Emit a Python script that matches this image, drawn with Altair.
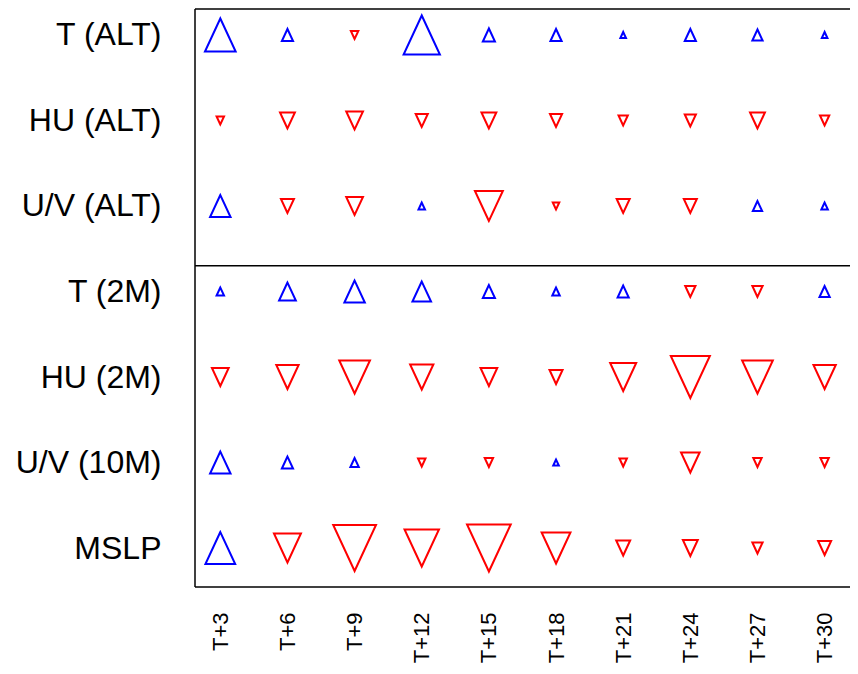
import json
import altair as alt
import pandas as pd

# Row labels (top to bottom) and forecast steps (left to right)
rows = ["T (ALT)", "HU (ALT)", "U/V (ALT)", "T (2M)", "HU (2M)", "U/V (10M)", "MSLP"]
steps = ["T+3", "T+6", "T+9", "T+12", "T+15", "T+18", "T+21", "T+24", "T+27", "T+30"]

# Signed scores: positive = improvement (blue up), negative = degradation (red down)
t_alt = [33, 12, -8, 39, 13, 12, 6, 12, 11, 6]
hu_alt = [-8, -16, -18, -13, -16, -13, -10, -12, -16, -10]
uv_alt = [22, -14, -18, 7, -30, -7, -14, -14, 10, 7]
t_2m = [8, 18, 22, 20, 13, 8, 12, -11, -11, 11]
hu_2m = [-18, -24, -33, -25, -18, -14, -28, -42, -33, -24]
uv_10m = [22, 12, 9, -8, -9, 6, -8, -20, -9, -9]
mslp = [32, -29, -46, -37, -47, -31, -15, -16, -11, -14]

series = [t_alt, hu_alt, uv_alt, t_2m, hu_2m, uv_10m, mslp]

records = []
for r, vals in enumerate(series, start=1):
    for c, v in enumerate(vals, start=1):
        records.append({
            "row": r,
            "col": c,
            "value": v,
            "dir": "up" if v >= 0 else "down",
            "area": float(v) ** 2,
        })
df = pd.DataFrame(records)

up_path = "M0,-1L-0.93,1L0.93,1Z"
down_path = "M0,1L-0.93,-1L0.93,-1Z"

font = "Liberation Sans"
y_expr = json.dumps(rows) + "[datum.value - 1]"
x_expr = json.dumps(steps) + "[datum.value - 1]"

x_dom = [0.623, 10.378]
y_dom = [0.696, 7.456]
x_scale = alt.Scale(domain=x_dom, nice=False, zero=False)
y_scale = alt.Scale(domain=y_dom, nice=False, zero=False, reverse=True)

points = alt.Chart(df).mark_point(filled=False, strokeWidth=2, opacity=1).encode(
    x=alt.X("col:Q", scale=x_scale,
            axis=alt.Axis(values=list(range(1, len(steps) + 1)), labelExpr=x_expr,
                          title=None, ticks=False, domain=False, grid=False,
                          labelAngle=270, labelAlign="right", labelBaseline="middle",
                          labelPadding=25, labelFontSize=22, labelFont=font,
                          labelColor="black", labelOverlap=False, labelFlush=False)),
    y=alt.Y("row:Q", scale=y_scale,
            axis=alt.Axis(values=list(range(1, len(rows) + 1)), labelExpr=y_expr,
                          title=None, ticks=False, domain=False, grid=False,
                          labelPadding=34, labelFontSize=32, labelFont=font,
                          labelColor="black", labelOverlap=False, labelFlush=False)),
    shape=alt.Shape("dir:N", scale=alt.Scale(domain=["up", "down"], range=[up_path, down_path]),
                    legend=None),
    color=alt.Color("dir:N", scale=alt.Scale(domain=["up", "down"], range=["#0000ff", "#ff0000"]),
                    legend=None),
    size=alt.Size("area:Q", scale=None, legend=None),
)

# Frame lines (top, divider, bottom) and left edge
hlines = alt.Chart(pd.DataFrame({"y": [y_dom[0], 3.698, y_dom[1]]})).mark_rule(
    color="black", strokeWidth=1.5
).encode(y=alt.Y("y:Q", scale=y_scale))

vline = alt.Chart(pd.DataFrame({"x": [x_dom[0]]})).mark_rule(
    color="black", strokeWidth=1.5
).encode(x=alt.X("x:Q", scale=x_scale))

chart = alt.layer(hlines, vline, points).properties(
    width=655,
    height=578,
    autosize=alt.AutoSizeParams(type="none"),
    padding={"left": 187, "top": 1, "right": 0, "bottom": 79},
).configure(background="white").configure_view(stroke=None)

chart.save("out.html", embed_options={"renderer": "svg", "actions": False})
